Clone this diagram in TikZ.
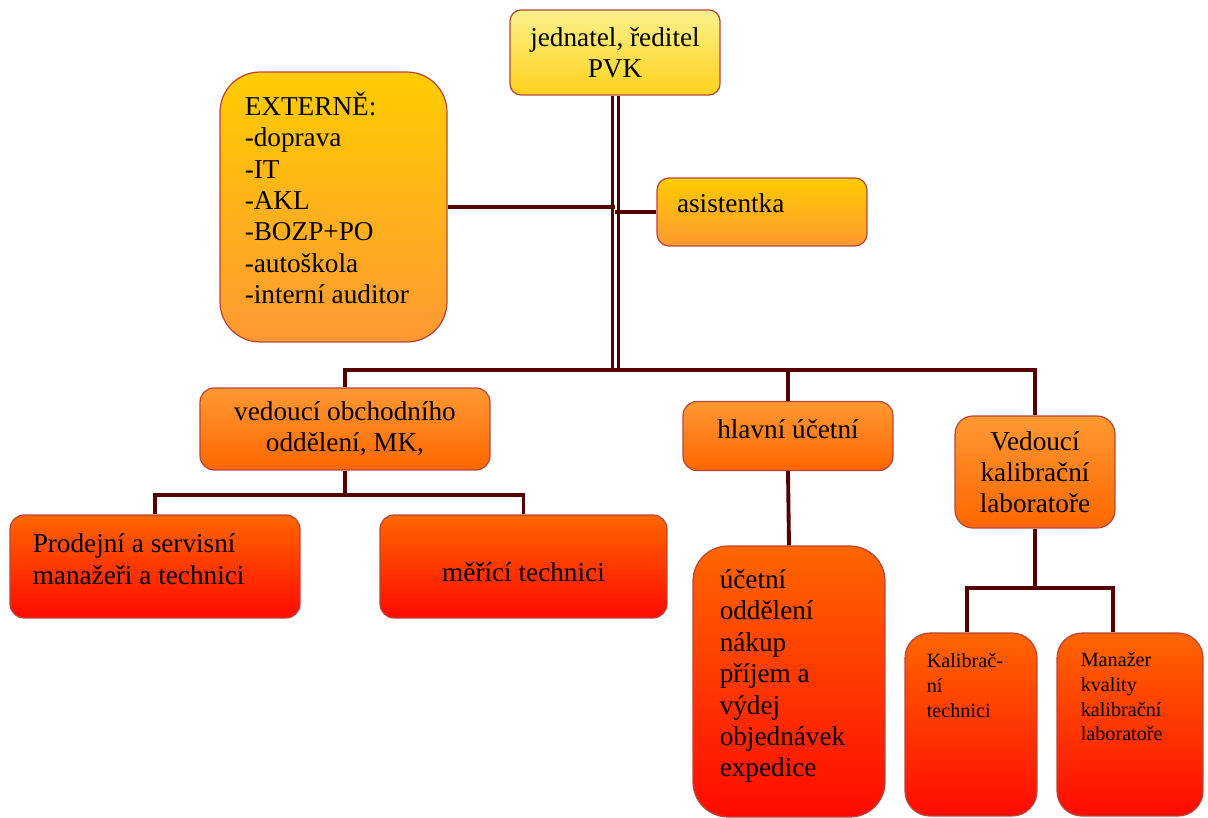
\documentclass[tikz,border=0pt]{standalone}
\usepackage{fontspec}
\setmainfont{Liberation Serif}
\definecolor{og-line}{HTML}{550000}
\definecolor{og-edge}{HTML}{B8453A}
\definecolor{og-yel1}{HTML}{FAF18C}
\definecolor{og-yel2}{HTML}{FFD21C}
\definecolor{og-gold}{HTML}{FFCC00}
\definecolor{og-orange1}{HTML}{FF9933}
\definecolor{og-orange2}{HTML}{FF6600}
\definecolor{og-red}{HTML}{FF0A00}

\begin{document}
\begin{tikzpicture}[x=0.02cm, y=-0.02cm,
    box/.style={draw=og-edge, line width=0.7pt, align=center, inner sep=0pt,
      rounded corners=0.28cm, font=\fontsize{15.5}{17.6}\selectfont},
    lvl1/.style={box, top color=og-gold, bottom color=og-orange1},
    lvl2/.style={box, top color=og-orange1, bottom color=og-orange2},
    lvl3/.style={box, top color=og-orange2, bottom color=og-red},
    txt/.style={align=left, inner sep=0pt, anchor=north west, font=\fontsize{15.5}{17.9}\selectfont},
    small/.style={txt, font=\fontsize{11.5}{14}\selectfont},
    link/.style={draw=og-line, line width=2.2pt}]
  \useasboundingbox (0,0) rectangle (1208,818);

  % vedeni
  \node[box, top color=og-yel1, bottom color=og-yel2, rounded corners=0.22cm,
    minimum width=4.2cm, minimum height=1.7cm] (boss) at (615,52.5) {jednatel, ředitel\\PVK};
  \node[lvl1, rounded corners=0.8cm, minimum width=4.54cm, minimum height=5.4cm] (ext)
    at (333.5,207) {};
  \node[txt] (exttext) at ([xshift=0.5cm, yshift=-0.4cm]ext.north west)
    {EXTERNĚ:\\-doprava\\-IT\\-AKL\\-BOZP+PO\\-autoškola\\-interní auditor};
  \node[lvl1, rounded corners=0.24cm, text width=3.4cm, inner xsep=0.4cm, align=left,
    text height=10pt, text depth=10pt, minimum height=1.36cm] (asist) at (762,212) {asistentka};

  % vedouci
  \node[lvl2, minimum width=5.8cm, minimum height=1.64cm] (vedouci) at (345,429)
    {vedoucí obchodního\\oddělení, MK,};
  \node[lvl2, minimum width=4.2cm, minimum height=1.38cm, text height=9pt,
    text depth=5.6pt] (hlavni) at (788,436) {hlavní účetní};
  \node[lvl2, rounded corners=0.36cm, minimum width=3.2cm, minimum height=2.24cm] (kalib)
    at (1035,472) {Vedoucí\\kalibrační\\laboratoře};

  % oddeleni
  \node[lvl3, minimum width=5.8cm, minimum height=2.06cm] (prodejni) at (155,566.5) {};
  \node[txt] (prodtext) at ([xshift=0.46cm, yshift=-0.38cm]prodejni.north west)
    {Prodejní a servisní\\manažeři a technici};
  \node[lvl3, minimum width=5.74cm, minimum height=2.06cm, text height=17.2pt,
    text depth=0pt] (merici) at (523.5,566.5) {měřící technici};
  \node[lvl3, rounded corners=0.7cm, minimum width=3.84cm, minimum height=5.42cm] (ucetni)
    at (789,681.5) {};
  \node[txt] (uctext) at ([xshift=0.54cm, yshift=-0.47cm]ucetni.north west)
    {účetní\\oddělení\\nákup\\příjem a\\výdej\\objednávek\\expedice};
  \node[lvl3, rounded corners=0.5cm, minimum width=2.64cm, minimum height=3.66cm] (kt)
    at (971,724.5) {};
  \node[lvl3, rounded corners=0.5cm, minimum width=2.92cm, minimum height=3.66cm] (mk)
    at (1130,724.5) {};
  \node[small] (kttext) at ([xshift=0.44cm, yshift=-0.42cm]kt.north west)
    {Kalibrač-\\ní\\technici};
  \node[small] (mktext) at ([xshift=0.48cm, yshift=-0.4cm]mk.north west)
    {Manažer\\kvality\\kalibrační\\laboratoře};

  % spoje
  \coordinate (bus) at (615,370);
  \coordinate (vb) at (345,495);
  \coordinate (kb) at (1035,588);
  \draw[link, line width=1.3pt] ([xshift=-0.05cm]boss.south) -- ([xshift=-0.05cm]bus);
  \draw[link] ([xshift=0.07cm]boss.south) -- ([xshift=0.07cm]bus);
  \draw[link] (ext.east) -- (ext.east -| boss.south);
  \draw[link] (asist.west) -- (asist.west -| boss.south);
  \draw[link] (vedouci.north) |- (bus) -| (kalib.north);
  \draw[link] (hlavni.north) -- (hlavni.north |- bus);
  \draw[link] (vedouci.south) -- (vb);
  \draw[link] (prodejni.north) |- (vb) -| (merici.north);
  \draw[link] (hlavni.south) -- (ucetni.north);
  \draw[link] (kalib.south) -- (kb);
  \draw[link] ([xshift=-0.08cm]kt.north) |- (kb) -| ([xshift=-0.34cm]mk.north);
\end{tikzpicture}
\end{document}
